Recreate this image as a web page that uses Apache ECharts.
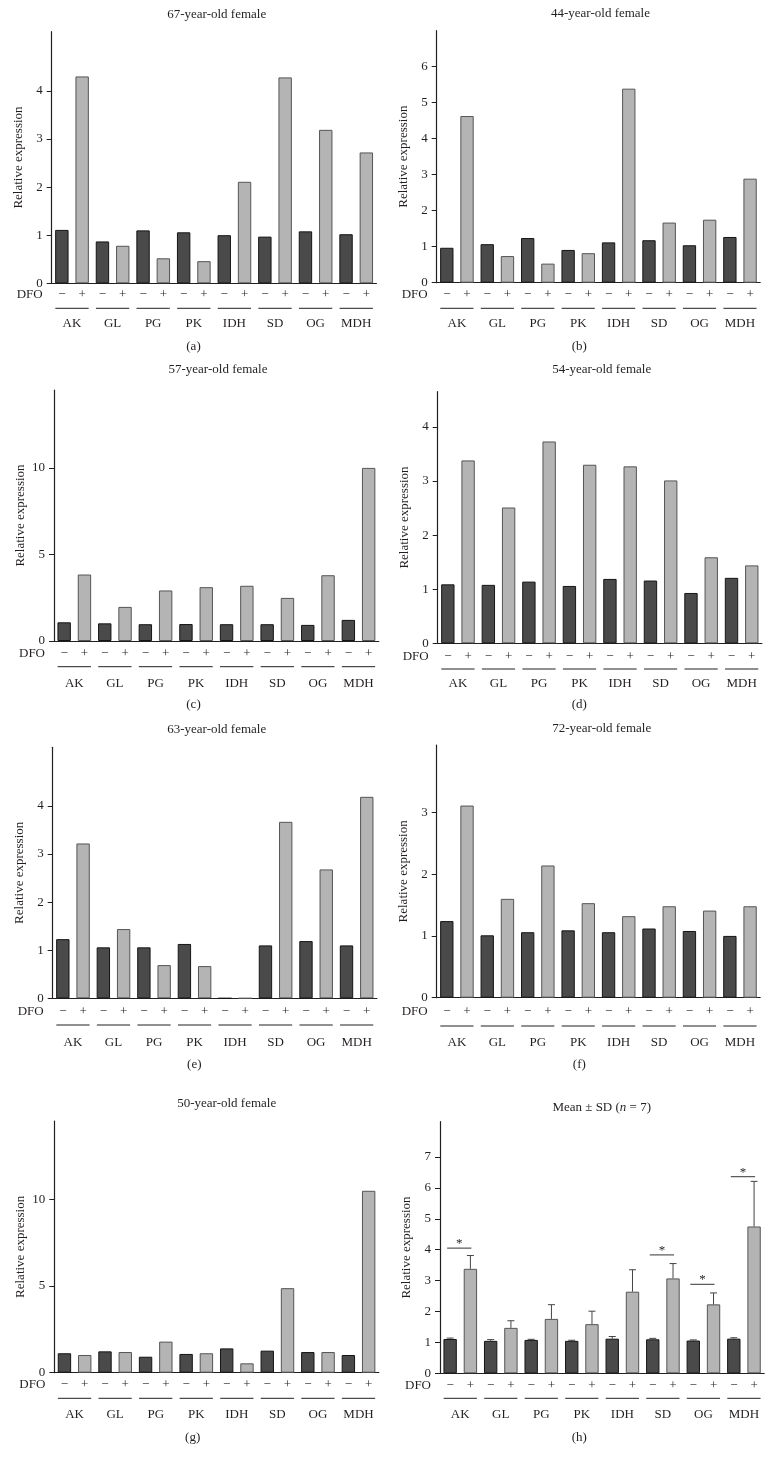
<!DOCTYPE html>
<html><head><meta charset="utf-8">
<script src="https://cdn.jsdelivr.net/npm/echarts@6/dist/echarts.min.js"></script>
<style>html,body{margin:0;padding:0;background:#fff}#c{width:774px;height:1465px}</style>
</head><body><div id="c"></div>
<script>
// ---------- data ----------
const groups = ['AK', 'GL', 'PG', 'PK', 'IDH', 'SD', 'OG', 'MDH'];
const dfoSigns = ['\u2212', '+'];
const titles = ['67-year-old female', '44-year-old female', '57-year-old female', '54-year-old female',
  '63-year-old female', '72-year-old female', '50-year-old female', 'Mean \u00b1 SD ({i|n} = 7)'];
const panelLetters = ['(a)', '(b)', '(c)', '(d)', '(e)', '(f)', '(g)', '(h)'];
// order: AK−, AK+, GL−, GL+, PG−, PG+, PK−, PK+, IDH−, IDH+, SD−, SD+, OG−, OG+, MDH−, MDH+
const valsA = [1.11, 4.30, 0.87, 0.78, 1.10, 0.52, 1.06, 0.46, 1.00, 2.11, 0.97, 4.28, 1.08, 3.19, 1.02, 2.72];
const valsB = [0.97, 4.63, 1.07, 0.74, 1.24, 0.53, 0.91, 0.82, 1.12, 5.39, 1.18, 1.67, 1.04, 1.75, 1.27, 2.89];
const valsC = [1.08, 3.84, 1.02, 1.97, 0.97, 2.92, 0.98, 3.11, 0.97, 3.19, 0.97, 2.49, 0.93, 3.80, 1.22, 10.0];
const valsD = [1.09, 3.38, 1.08, 2.51, 1.14, 3.73, 1.06, 3.30, 1.19, 3.27, 1.16, 3.01, 0.93, 1.59, 1.21, 1.44];
const valsE = [1.23, 3.22, 1.06, 1.44, 1.06, 0.69, 1.13, 0.67, 0, 0, 1.10, 3.67, 1.19, 2.68, 1.10, 4.19];
const valsF = [1.24, 3.11, 1.01, 1.60, 1.06, 2.14, 1.09, 1.53, 1.06, 1.32, 1.12, 1.48, 1.08, 1.41, 1.00, 1.48];
const valsG = [1.12, 1.02, 1.23, 1.19, 0.92, 1.79, 1.08, 1.12, 1.40, 0.54, 1.27, 4.87, 1.19, 1.19, 1.02, 10.48];
const meanH = [1.11, 3.38, 1.05, 1.47, 1.08, 1.76, 1.05, 1.59, 1.12, 2.64, 1.10, 3.07, 1.06, 2.23, 1.12, 4.75];
const sdH = [0.03, 0.43, 0.04, 0.23, 0.02, 0.46, 0.02, 0.42, 0.07, 0.71, 0.03, 0.48, 0.02, 0.37, 0.03, 1.46];
const sigGroups = ['AK', 'SD', 'OG', 'MDH'];
const sigLevels = [4.05, 3.83, 2.88, 6.36];
const yTicksA = [0, 1, 2, 3, 4];
const yTicksB = [0, 1, 2, 3, 4, 5, 6];
const yTicksC = [0, 5, 10];
const yTicksD = [0, 1, 2, 3, 4];
const yTicksE = [0, 1, 2, 3, 4];
const yTicksF = [0, 1, 2, 3];
const yTicksG = [0, 5, 10];
const yTicksH = [0, 1, 2, 3, 4, 5, 6, 7];
const yMax = [5.23, 7.0, 14.5, 4.65, 5.22, 4.09, 14.5, 8.14];

const panelVals = [valsA, valsB, valsC, valsD, valsE, valsF, valsG, meanH];
const panelTicks = [yTicksA, yTicksB, yTicksC, yTicksD, yTicksE, yTicksF, yTicksG, yTicksH];

// ---------- layout (page pixels) ----------
const layout = [
  {left: 51.7, top: 31.7, width: 324.8, height: 251.6, tx: 216.7, ty: 14.3, lx: 193.5, ly: 346.7, d: 11.7, l: 25, g: 40},
  {left: 436.7, top: 30.7, width: 323.5, height: 252, tx: 600.5, ty: 13.3, lx: 579.3, ly: 346.7, d: 12.3, l: 25.6, g: 40.6},
  {left: 54, top: 390, width: 324.8, height: 251, tx: 218, ty: 370, lx: 193.5, ly: 705, d: 13, l: 25.7, g: 42.3},
  {left: 437.7, top: 391.7, width: 324.2, height: 251.6, tx: 601.7, ty: 370, lx: 579.3, ly: 705, d: 13.4, l: 25.7, g: 40.7},
  {left: 52.7, top: 747.3, width: 324.2, height: 251, tx: 216.7, ty: 730, lx: 194.3, ly: 1065, d: 13.4, l: 26.7, g: 44},
  {left: 436.7, top: 745, width: 323.5, height: 252.7, tx: 601.7, ty: 729, lx: 579.3, ly: 1065, d: 14, l: 28.3, g: 44.6},
  {left: 54.3, top: 1121, width: 324.5, height: 251.7, tx: 226.7, ty: 1103.3, lx: 192.7, ly: 1438, d: 12.3, l: 25.6, g: 42.3},
  {left: 440, top: 1121.7, width: 324.2, height: 251.6, tx: 601.7, ty: 1107.7, lx: 579.3, ly: 1438, d: 12.7, l: 25, g: 41.7}
];

const FONT = '"Liberation Serif", "DejaVu Serif", serif';
const INK = '#231f20';
const darkStyle = {color: '#4a4a4a', borderColor: '#151515', borderWidth: 1};
const lightStyle = {color: '#b4b4b4', borderColor: '#555555', borderWidth: 1};

const cats16 = [];
groups.forEach(g => dfoSigns.forEach(s => cats16.push(g + '|' + s)));

const grid = [], xAxis = [], yAxis = [], series = [], graphic = [];

layout.forEach((L, i) => {
  grid.push({left: L.left, top: L.top, width: L.width, height: L.height, containLabel: false});
  const xBase = xAxis.length;
  // main axis (line at zero)
  xAxis.push({type: 'category', gridIndex: i, data: cats16, position: 'bottom',
    axisLine: {show: true, lineStyle: {color: INK, width: 1.2}},
    axisTick: {show: false}, axisLabel: {show: false}, splitLine: {show: false}});
  // DFO signs row
  xAxis.push({type: 'category', gridIndex: i, data: cats16, position: 'bottom', offset: L.d,
    axisLine: {show: false}, axisTick: {show: false},
    axisLabel: {interval: 0, margin: 0, verticalAlign: 'middle', fontFamily: FONT, fontSize: 13, color: INK,
      formatter: v => v.split('|')[1]},
    name: 'DFO', nameLocation: 'start', nameGap: 9, nameMoveOverlap: false,
    nameTextStyle: {fontFamily: FONT, fontSize: 13, color: INK, verticalAlign: 'middle', align: 'right'}});
  // group names row
  xAxis.push({type: 'category', gridIndex: i, data: groups, position: 'bottom', offset: L.g,
    axisLine: {show: false}, axisTick: {show: false},
    axisLabel: {interval: 0, margin: 0, verticalAlign: 'middle', fontFamily: FONT, fontSize: 13, color: INK}});

  const ticks = panelTicks[i];
  yAxis.push({type: 'value', gridIndex: i, min: 0, max: yMax[i],
    axisLine: {show: true, lineStyle: {color: INK, width: 1.2}},
    axisTick: {show: true, length: 5, customValues: ticks, lineStyle: {color: INK, width: 1}},
    axisLabel: {customValues: ticks, margin: 9, fontFamily: FONT, fontSize: 13, color: INK},
    splitLine: {show: false},
    name: 'Relative expression', nameLocation: 'middle', nameGap: 27, nameRotate: 90, nameMoveOverlap: false,
    nameTextStyle: {fontFamily: FONT, fontSize: 13, color: INK}});

  const vals = panelVals[i];
  series.push({type: 'bar', xAxisIndex: xBase, yAxisIndex: i, barCategoryGap: '34%',
    data: vals.map((v, k) => ({value: v, itemStyle: k % 2 ? lightStyle : darkStyle})),
    silent: true, z: 2});

  // group underline segments
  const lineOff = L.l;
  series.push({type: 'custom', xAxisIndex: xBase + 2, yAxisIndex: i, clip: false, silent: true, z: 3,
    data: groups.map((g, k) => [k, 0]),
    renderItem: (params, api) => {
      const c = api.coord([api.value(0), 0]);
      const band = api.size([1, 0])[0];
      const half = band * 0.41;
      return {type: 'line', shape: {x1: c[0] - half, y1: c[1] + lineOff, x2: c[0] + half, y2: c[1] + lineOff},
        style: {stroke: INK, lineWidth: 1}};
    }});

  graphic.push({type: 'text', x: L.tx, y: L.ty, silent: true,
    style: {text: titles[i], fill: INK, font: '13px ' + FONT, align: 'center', verticalAlign: 'middle',
      textAlign: 'center', textVerticalAlign: 'middle',
      rich: {i: {fontStyle: 'italic', fontFamily: FONT, fontSize: 13, fill: INK, color: INK}}}});
  graphic.push({type: 'text', x: L.lx, y: L.ly, silent: true,
    style: {text: panelLetters[i], fill: INK, font: '13px ' + FONT, align: 'center', verticalAlign: 'middle',
      textAlign: 'center', textVerticalAlign: 'middle'}});
});

// error bars for panel (h)
series.push({type: 'custom', xAxisIndex: 7 * 3, yAxisIndex: 7, clip: false, silent: true, z: 4,
  data: meanH.map((m, k) => [k, m, m + sdH[k]]),
  encode: {x: 0, y: [1, 2]},
  renderItem: (params, api) => {
    const x = api.value(0);
    const b = api.coord([x, api.value(1)]);
    const t = api.coord([x, api.value(2)]);
    const hw = 3.5;
    return {type: 'group', children: [
      {type: 'line', shape: {x1: b[0], y1: b[1], x2: t[0], y2: t[1]}, style: {stroke: '#444', lineWidth: 1}},
      {type: 'line', shape: {x1: t[0] - hw, y1: t[1], x2: t[0] + hw, y2: t[1]}, style: {stroke: '#444', lineWidth: 1}}
    ]};
  }});

// significance marks for panel (h)
series.push({type: 'custom', xAxisIndex: 7 * 3 + 2, yAxisIndex: 7, clip: false, silent: true, z: 4,
  data: sigGroups.map((g, k) => [groups.indexOf(g), sigLevels[k]]),
  encode: {x: 0, y: 1},
  renderItem: (params, api) => {
    const c = api.coord([api.value(0), api.value(1)]);
    const band = api.size([1, 0])[0];
    const x1 = c[0] - band / 4 - 3, x2 = c[0] + band / 4 + 1;
    return {type: 'group', children: [
      {type: 'line', shape: {x1: x1, y1: c[1], x2: x2, y2: c[1]}, style: {stroke: '#333', lineWidth: 1}},
      {type: 'text', x: (x1 + x2) / 2, y: c[1] - 4.5,
        style: {text: '*', fill: INK, font: '13px ' + FONT, align: 'center', verticalAlign: 'middle'}}
    ]};
  }});

const chart = echarts.init(document.getElementById('c'), null, {renderer: 'canvas', width: 774, height: 1465});
chart.setOption({
  backgroundColor: '#ffffff',
  animation: false,
  grid: grid, xAxis: xAxis, yAxis: yAxis, series: series, graphic: graphic
});
</script>
</body></html>
